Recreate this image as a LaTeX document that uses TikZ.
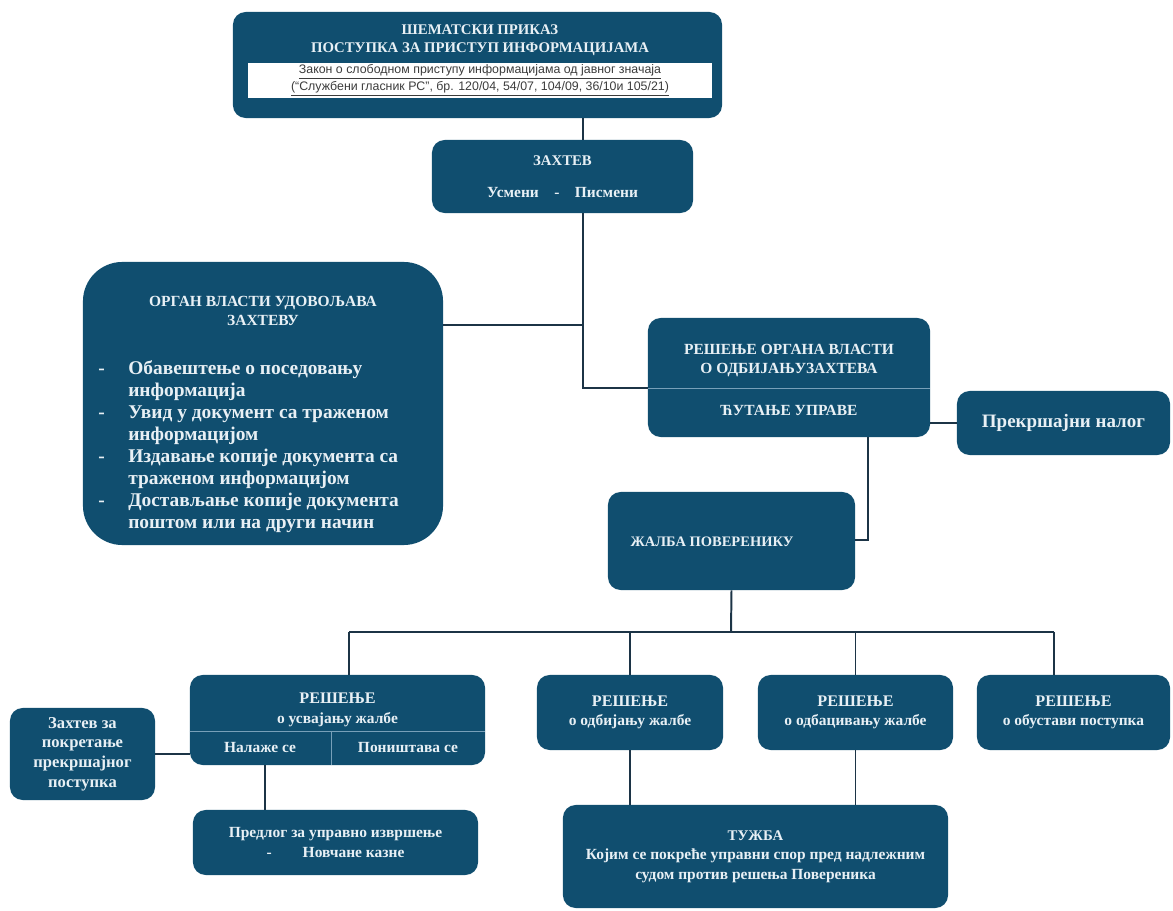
\documentclass[tikz,border=0pt]{standalone}
\usepackage{fontspec}
\setmainfont{Liberation Serif}
\newfontfamily\lawfont{Liberation Sans}
\usetikzlibrary{positioning}

\definecolor{boxblue}{RGB}{16,78,111}
\definecolor{boxtext}{RGB}{232,240,245}
\definecolor{linecol}{RGB}{28,52,70}
\definecolor{splitcol}{RGB}{120,160,185}
\definecolor{lawgray}{RGB}{60,60,60}

\begin{document}
\begin{tikzpicture}[x=0.025cm,y=-0.025cm,
  box/.style={fill=boxblue,text=boxtext,rounded corners=9pt,inner sep=0pt,align=center,font=\bfseries\fontsize{11}{14}\selectfont},
  txt/.style={text=boxtext,inner sep=0pt,align=center,font=\bfseries\fontsize{11}{14}\selectfont},
  caps/.style={text=boxtext,inner sep=0pt,align=center,font=\bfseries\fontsize{11}{13.5}\selectfont},
  link/.style={draw=linecol,line width=1.4pt},
  split/.style={draw=splitcol,line width=0.6pt}]
\useasboundingbox (0,0) rectangle (1173,911);

\node[box,minimum width=12.225cm,minimum height=2.65cm] (head) at (477.5,65) {};
\node[caps,font=\bfseries\fontsize{10.5}{13}\selectfont] (headtxt) at (480,40) {ШЕМАТСКИ ПРИКАЗ\\ПОСТУПКА ЗА ПРИСТУП ИНФОРМАЦИЈАМА};
\node[fill=white,minimum width=11.6cm,minimum height=0.875cm,inner sep=0pt] (band) at (480,80.5) {};
\node[text=lawgray,inner sep=0pt,align=center,font=\lawfont\fontsize{8.8}{12}\selectfont] (lawtxt) at (band)
  {\underline{Закон о слободном приступу информацијама од јавног значаја}\\
   \underline{(“Службени гласник РС”, бр. 120/04, 54/07, 104/09, 36/10и 105/21)}};

\node[box,minimum width=6.525cm,minimum height=1.825cm] (zahtev) at (562.5,176.5)
  {\fontsize{10.5}{13}\selectfont ЗАХТЕВ\\[9pt]Усмени\quad-\quad Писмени};

\node[box,rounded corners=28pt,minimum width=9cm,minimum height=7.075cm] (organ) at (263,403.5) {};
\node[caps] (organhead) at (263,311) {ОРГАН ВЛАСТИ УДОВОЉАВА\\ЗАХТЕВУ};
\node[txt,anchor=north west,align=left,font=\bfseries\fontsize{13.8}{15.6}\selectfont] (organlist) at (98,359)
  {\begin{tabular}{@{}p{0.75cm}@{}l@{}}
   - & Обавештење о поседовању\\
     & информација\\
   - & Увид у документ са траженом\\
     & информацијом\\
   - & Издавање копије документа са\\
     & траженом информацијом\\
   - & Достављање копије документа\\
     & поштом или на други начин
   \end{tabular}};

\node[box,minimum width=7.05cm,minimum height=2.975cm] (odbijanje) at (789,377.5) {};
\node[caps] (odbijanjetxt) at (789,361) {РЕШЕЊЕ ОРГАНА ВЛАСТИ\\О ОДБИЈАЊУЗАХТЕВА};
\node[caps] (cutanje) at (789,410) {ЋУТАЊЕ УПРАВЕ};
\draw[split] (odbijanje.west |- 0,388) -- (odbijanje.east |- 0,388);

\node[box,minimum width=5.325cm,minimum height=1.6cm,font=\bfseries\fontsize{13.5}{16}\selectfont] (prekrsaj) at (1063.5,423) {Прекршајни налог};

\node[box,minimum width=6.175cm,minimum height=2.45cm] (zalba) at (731.5,541) {};
\node[caps,font=\bfseries\fontsize{10.3}{12}\selectfont] (zalbatxt) at (712,542) {ЖАЛБА ПОВЕРЕНИКУ};

\node[box,minimum width=7.375cm,minimum height=2.25cm] (usvajanje) at (337.5,720) {};
\node[txt] (usvajanjetxt) at (337.5,710) {\fontsize{11.5}{13.5}\selectfont РЕШЕЊЕ\\\fontsize{11}{13.5}\selectfont о усвајању жалбе};
\draw[split] (usvajanje.west |- 0,731) -- (usvajanje.east |- 0,731);
\draw[split] (331,731) -- (usvajanje.south -| 331,0);
\node[txt] (nalaze) at (260,748) {Налаже се};
\node[txt] (ponistava) at (408,748) {Поништава се};

\node[box,minimum width=3.625cm,minimum height=2.3cm,font=\bfseries\fontsize{11.8}{14}\selectfont] (pokretanje) at (82.5,754)
  {Захтев за\\покретање\\прекршајног\\поступка};

\node[box,minimum width=7.125cm,minimum height=1.625cm] (predlog) at (335.5,842.5)
  {Предлог за управно извршење\\-\qquad Новчане казне};

\node[box,minimum width=4.65cm,minimum height=1.875cm] (odbijanjez) at (630,712.5)
  {\fontsize{11.5}{13.5}\selectfont РЕШЕЊЕ\\\fontsize{11}{13.5}\selectfont о одбијању жалбе};
\node[box,minimum width=4.875cm,minimum height=1.875cm] (odbacivanje) at (855.5,712.5)
  {\fontsize{11.5}{13.5}\selectfont РЕШЕЊЕ\\\fontsize{11}{13.5}\selectfont о одбацивању жалбе};
\node[box,minimum width=4.825cm,minimum height=1.875cm] (obustava) at (1073.5,712.5)
  {\fontsize{11.5}{13.5}\selectfont РЕШЕЊЕ\\\fontsize{11}{13.5}\selectfont о обустави поступка};

\node[box,minimum width=9.625cm,minimum height=2.575cm] (tuzba) at (755.5,856.5)
  {\fontsize{10.5}{14}\selectfont ТУЖБА\\Којим се покреће управни спор пред надлежним\\судом против решења Повереника};

\coordinate (trunk) at (583,388);
\coordinate (organjoin) at (583,325);
\coordinate (zbend) at (868,540);
\coordinate (bus) at (731,632);
\coordinate (busl) at (349,632);
\coordinate (busr) at (1054,632);
\coordinate (predx) at (265,800);

\draw[link] (head.south -| trunk) -- (zahtev.north -| trunk);
\draw[link] (zahtev.south -| trunk) -- (trunk) -- (trunk -| odbijanje.west);
\draw[link] (organjoin -| organ.east) -- (organjoin);
\draw[link] (odbijanje.east |- prekrsaj.west) -- (prekrsaj.west);
\draw[link] (odbijanje.south -| zbend) -- (zbend) -- (zalba.east |- zbend);
\draw[link] (zalba.south) -- (bus);
\draw[link] (busl) -- (busr);
\draw[link] (busl) -- (busl |- usvajanje.north);
\draw[link] (odbijanjez.north |- bus) -- (odbijanjez.north);
\draw[link] (odbacivanje.north |- bus) -- (odbacivanje.north);
\draw[link] (busr) -- (busr |- obustava.north);
\draw[link] (pokretanje.east) -- (pokretanje.east -| usvajanje.west);
\draw[link] (usvajanje.south -| predx) -- (predlog.north -| predx);
\draw[link] (odbijanjez.south) -- (odbijanjez.south |- tuzba.north);
\draw[link] (odbacivanje.south) -- (odbacivanje.south |- tuzba.north);
\end{tikzpicture}
\end{document}
